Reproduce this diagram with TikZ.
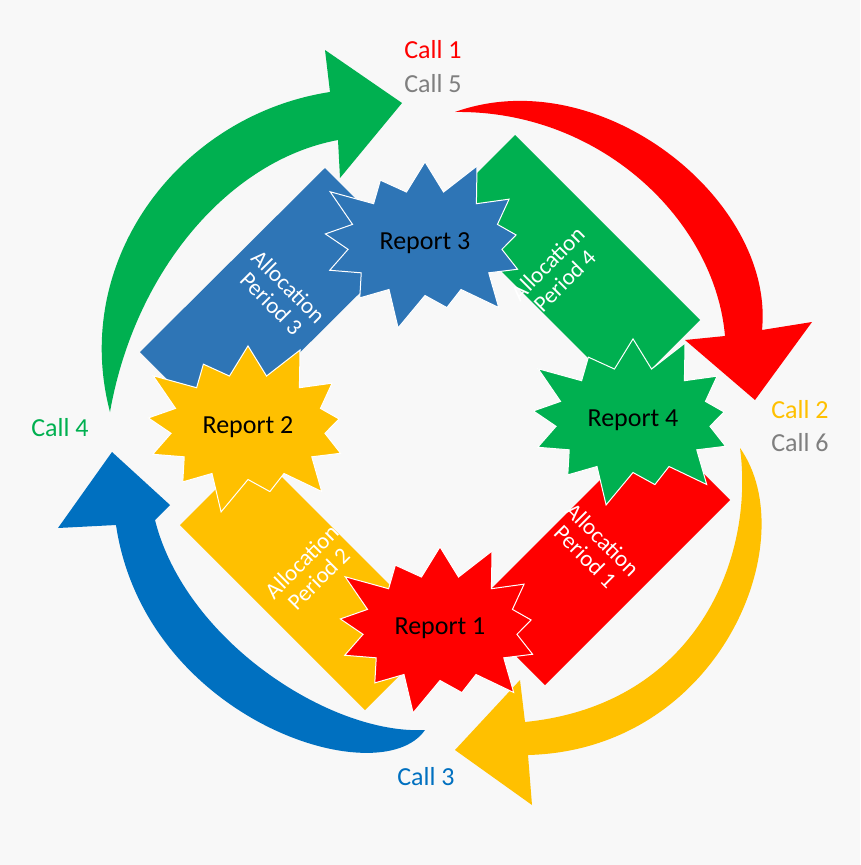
\documentclass[tikz,border=0pt]{standalone}
\usepackage{fontspec}
\setmainfont{Carlito}
\usetikzlibrary{shapes.symbols}
\definecolor{cblue}{RGB}{46,117,182}
\definecolor{cdark}{RGB}{0,112,192}
\definecolor{cgreen}{RGB}{0,176,80}
\definecolor{cred}{RGB}{255,0,0}
\definecolor{cyellow}{RGB}{255,192,0}
\definecolor{cgray}{RGB}{127,127,127}
\definecolor{bg}{RGB}{248,248,248}

\begin{document}
\begin{tikzpicture}[
  x=1pt, y=-1pt,
  font=\fontsize{26}{28}\selectfont,
  period/.style={text=white, align=center, font=\fontsize{23}{24}\selectfont},
  report/.style={starburst, starburst points=13, starburst point height=40pt,
    minimum width=235pt, minimum height=185pt, draw=white, line width=1pt, inner sep=0pt},
]
  % Background
  \fill[bg] (0,0) rectangle (860,865);
  \useasboundingbox (0,0) rectangle (860,865);

  % Curved arrows
  \fill[cgreen] (110,412) .. controls (70,260) and (180,115) .. (330,92) -- (325,50) -- (402,103)
    -- (340,178) -- (338,140) .. controls (230,160) and (135,270) .. (110,412) -- cycle;
  \fill[cred] (455,112) .. controls (600,60) and (775,200) .. (762,330) -- (812,322) -- (755,400)
    -- (685,340) -- (725,336) .. controls (715,220) and (600,110) .. (455,112) -- cycle;
  \fill[cyellow] (740,448) .. controls (805,540) and (720,750) .. (528,755) -- (532,805) -- (455,750)
    -- (520,680) -- (525,722) .. controls (695,705) and (755,560) .. (740,448) -- cycle;
  \fill[cdark] (425,730) .. controls (380,795) and (145,720) .. (116,525) -- (58,528) -- (112,452)
    -- (170,505) -- (155,520) .. controls (185,640) and (330,735) .. (425,730) -- cycle;

  % Allocation periods
  \fill[cblue] (140,352) -- (325,168) -- (405,248) -- (220,432) -- cycle;
  \fill[cgreen] (440,210) -- (515,135) -- (700,320) -- (625,395) -- cycle;
  \fill[cred] (470,610) -- (655,425) -- (730,500) -- (545,685) -- cycle;
  \fill[cyellow] (180,525) -- (255,450) -- (440,635) -- (365,710) -- cycle;
  \node[period, rotate=-45] (ap3) at (280,295) {Allocation\\Period 3};
  \node[period, rotate=45] (ap4) at (556,272) {Allocation\\Period 4};
  \node[period, rotate=-45] (ap1) at (594,548) {Allocation\\Period 1};
  \node[period, rotate=45] (ap2) at (310,570) {Allocation\\Period 2};

  % Reports
  \node[report, fill=cblue] (r3) at (425,243) {Report 3};
  \node[report, fill=cyellow] (r2) at (248,427) {Report 2};
  \node[report, fill=cgreen] (r4) at (633,420) {Report 4};
  \node[report, fill=cred] (r1) at (440,628) {Report 1};

  % Calls
  \node[text=cred] (c1) at (433,50) {Call 1};
  \node[text=cgray] (c5) at (433,84) {Call 5};
  \node[text=cyellow] (c2) at (800,410) {Call 2};
  \node[text=cgray] (c6) at (800,443) {Call 6};
  \node[text=cdark] (c3) at (426,777) {Call 3};
  \node[text=cgreen] (c4) at (60,428) {Call 4};
\end{tikzpicture}
\end{document}
